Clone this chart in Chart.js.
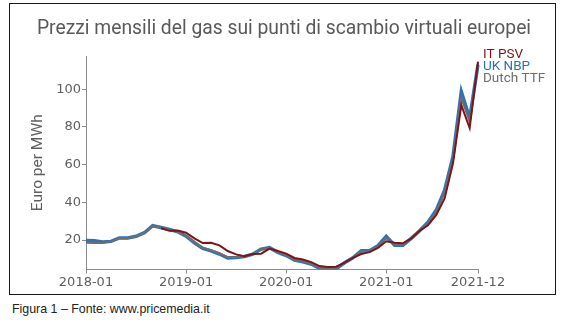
<!DOCTYPE html>
<html>
<head>
<meta charset="utf-8">
<script src="https://cdn.jsdelivr.net/npm/chart.js@4"></script>
<style>
  html, body { margin:0; padding:0; background:#fff; }
  #wrap { position:relative; width:568px; height:330px; }
  #box { position:absolute; left:9px; top:3px; width:545px; height:290px; border:1.5px solid #1a1a1a; }
  #title { position:absolute; left:0; top:16px; width:568px; text-align:center; font-family:Roboto, sans-serif; font-size:19.3px; color:#595959; }
  #chart { position:absolute; left:0; top:0; }
  #caption { position:absolute; left:12px; top:302px; font-family:"Liberation Sans", Arial, sans-serif; font-size:12.4px; color:#222; }
</style>
</head>
<body>
<div id="wrap">
  <div id="box"></div>
  <canvas id="chart" width="568" height="300"></canvas>
  <div id="title">Prezzi mensili del gas sui punti di scambio virtuali europei</div>
  <div id="caption">Figura 1 – Fonte: www.pricemedia.it</div>
</div>
<script>
// months 2018-01 .. 2021-12
const months = [];
for (let y = 2018; y <= 2021; y++) for (let m = 1; m <= 12; m++) months.push(y + '-' + String(m).padStart(2, '0'));
const shownTicks = ['2018-01', '2019-01', '2020-01', '2021-01', '2021-12'];
const yTicks = [20, 40, 60, 80, 100];

const ukNbp = [19.8, 19.6, 19.0, 19.3, 21.1, 21.1, 22.0, 23.9, 27.6, 26.7, 25.7, 24.4,
  22.1, 18.6, 15.6, 14.3, 12.6, 10.5, 10.8, 11.3, 12.5, 15.2, 16.0, 13.5,
  11.8, 9.4, 8.5, 7.3, 5.1, 4.5, 4.8, 8.0, 10.6, 14.3, 14.3, 17.0,
  22.0, 17.3, 17.3, 20.9, 24.9, 29.5, 35.9, 46.5, 64.2, 98.7, 84.6, 113.0];
const dutchTtf = [18.6, 18.4, 18.5, 19.3, 21.0, 21.0, 22.0, 23.9, 27.5, 26.5, 25.4, 24.2,
  22.0, 18.9, 15.9, 14.6, 13.0, 10.9, 11.0, 11.4, 12.4, 14.9, 15.8, 13.6,
  12.0, 9.6, 8.8, 7.6, 5.4, 4.8, 5.0, 8.0, 10.7, 13.8, 14.0, 16.6,
  21.0, 17.6, 17.6, 20.9, 24.9, 29.0, 35.0, 45.0, 63.0, 95.2, 82.8, 114.0];
const itPsv = [null, null, null, null, null, null, null, null, null, 26.3, 24.9, 25.1,
  23.9, 20.9, 18.4, 18.6, 17.2, 14.2, 12.4, 11.5, 12.6, 12.8, 15.5, 14.2,
  12.8, 10.5, 9.7, 8.3, 6.2, 5.7, 5.9, 8.0, 10.6, 12.6, 13.6, 15.9,
  19.4, 18.6, 18.3, 20.9, 24.9, 27.8, 33.3, 42.1, 60.7, 91.6, 79.4, 114.6];

const seriesNames = ['IT PSV', 'UK NBP', 'Dutch TTF'];
const seriesColors = {'IT PSV':'#7d1518', 'UK NBP':'#2e72b8', 'Dutch TTF':'#6e6e6e'};

// end-of-line labels instead of a legend box
const endLabels = {
  id: 'endLabels',
  afterDatasetsDraw(chart) {
    const ctx = chart.ctx;
    const y0 = chart.scales.y.getPixelForValue(itPsv[itPsv.length - 1]) - 7;
    ctx.save();
    ctx.font = '13.5px Roboto';
    ctx.textBaseline = 'middle';
    seriesNames.forEach((name, i) => {
      ctx.fillStyle = seriesColors[name];
      ctx.fillText(name, chart.chartArea.right + 5, y0 + i * 12);
    });
    ctx.restore();
  }
};

new Chart(document.getElementById('chart'), {
  type: 'line',
  data: {
    labels: months,
    datasets: [
      { label: 'UK NBP', data: ukNbp, borderColor: seriesColors['UK NBP'], borderWidth: 3.5, order: 3 },
      { label: 'Dutch TTF', data: dutchTtf, borderColor: seriesColors['Dutch TTF'], borderWidth: 2, order: 2 },
      { label: 'IT PSV', data: itPsv, borderColor: seriesColors['IT PSV'], borderWidth: 2, order: 1 }
    ]
  },
  options: {
    responsive: false,
    animation: false,
    devicePixelRatio: 1,
    elements: { point: { radius: 0 }, line: { tension: 0, fill: false } },
    layout: { padding: { left: 25, right: 90, top: 56, bottom: 0 } },
    plugins: { legend: { display: false }, tooltip: { enabled: false } },
    scales: {
      x: {
        offset: false,
        grid: { drawOnChartArea: false, tickLength: 4, color: '#8c8c8c' },
        border: { color: '#8c8c8c', width: 1 },
        ticks: { autoSkip: false, maxRotation: 0, padding: 1, color: '#5f5f5f', font: { family: 'DejaVu Sans', size: 13 } },
        afterBuildTicks(s) { s.ticks = s.ticks.filter(t => shownTicks.includes(months[t.value])); },
        afterFit(s) { s.height = 30.5; }
      },
      y: {
        min: 4.4, max: 117.6,
        grid: { drawOnChartArea: false, tickLength: 4, color: '#8c8c8c' },
        border: { color: '#8c8c8c', width: 1 },
        ticks: { padding: 1, color: '#5f5f5f', font: { family: 'DejaVu Sans', size: 13 } },
        afterBuildTicks(s) { s.ticks = yTicks.map(v => ({ value: v })); },
        afterFit(s) { s.width = 61; },
        title: { display: true, text: 'Euro per MWh', color: '#5f5f5f', font: { family: 'Roboto', size: 15.5 }, padding: { top: 4, bottom: 0 } }
      }
    }
  },
  plugins: [endLabels]
});
</script>
</body>
</html>
